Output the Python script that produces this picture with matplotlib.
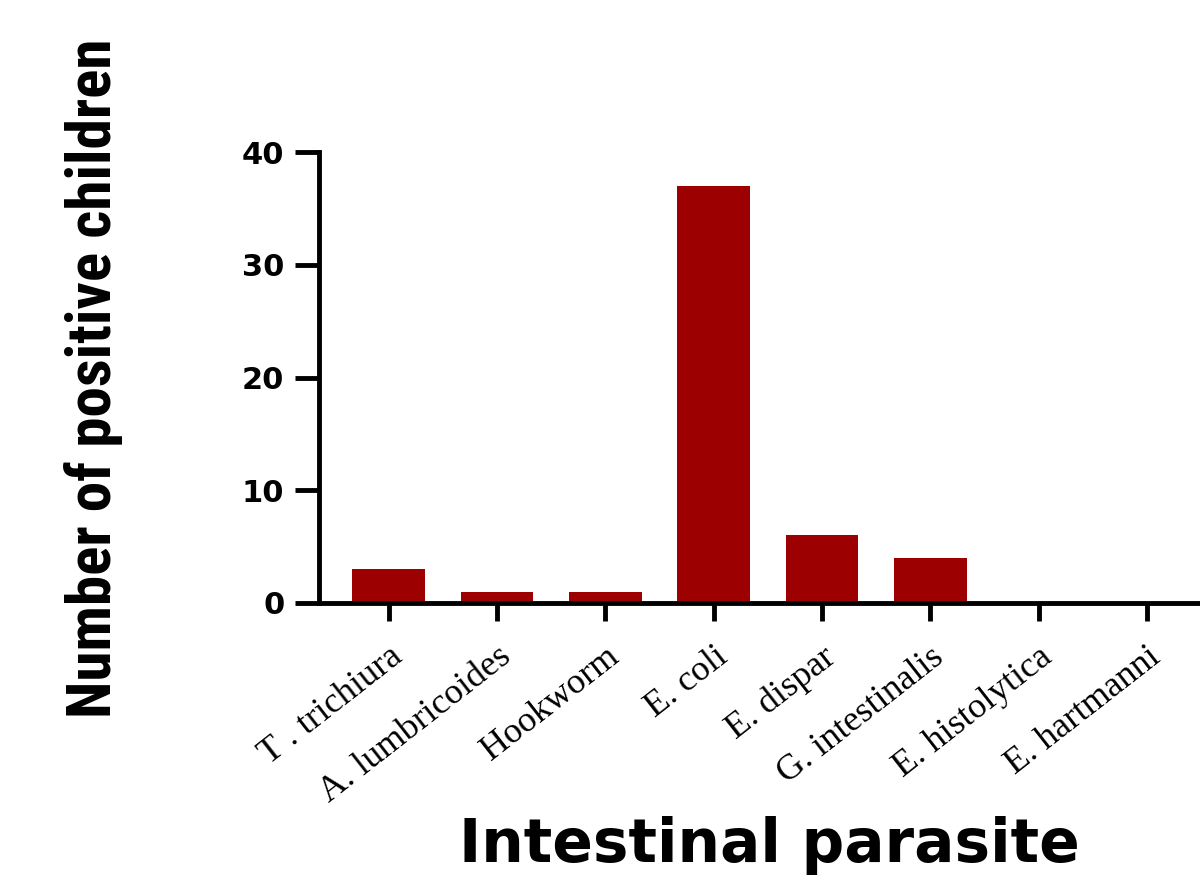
import matplotlib.pyplot as plt

# Data
parasites = ["T . trichiura", "A. lumbricoides", "Hookworm", "E. coli",
             "E. dispar", "G. intestinalis", "E. histolytica", "E. hartmanni"]
positives = [3, 1, 1, 37, 6, 4, 0, 0]

fig = plt.figure(figsize=(12, 8.75), dpi=100)
ax = fig.add_axes([0.266, 0.311, 0.734, 0.515])

x = list(range(len(parasites)))
ax.bar(x, positives, width=0.67, color="#9c0000")

ax.set_xlim(-0.64, 7.49)
ax.set_ylim(0, 40)
ax.set_yticks([0, 10, 20, 30, 40])
ax.set_xticks(x)
ax.set_xticklabels(parasites, rotation=38, ha="right", rotation_mode="anchor",
                   family="Liberation Serif", fontsize=26)
for lab in ax.get_yticklabels():
    lab.set_fontweight("bold")
    lab.set_fontsize(22)
    lab.set_family("DejaVu Sans")

for s in ["top", "right"]:
    ax.spines[s].set_visible(False)
for s in ["left", "bottom"]:
    ax.spines[s].set_linewidth(3.5)
ax.tick_params(axis="y", length=17, width=3.5, pad=8)
ax.tick_params(axis="x", length=13, width=3.5, pad=14)

fig.text(0.078, 0.568, "Number of positive children", rotation=90,
         ha="center", va="center", fontsize=44, fontweight="bold",
         family=["Roboto Condensed", "DejaVu Sans"])
fig.text(0.641, 0.015, "Intestinal parasite", ha="center", va="baseline",
         fontsize=43, fontweight="bold", family="DejaVu Sans")

fig.savefig("out.png")
